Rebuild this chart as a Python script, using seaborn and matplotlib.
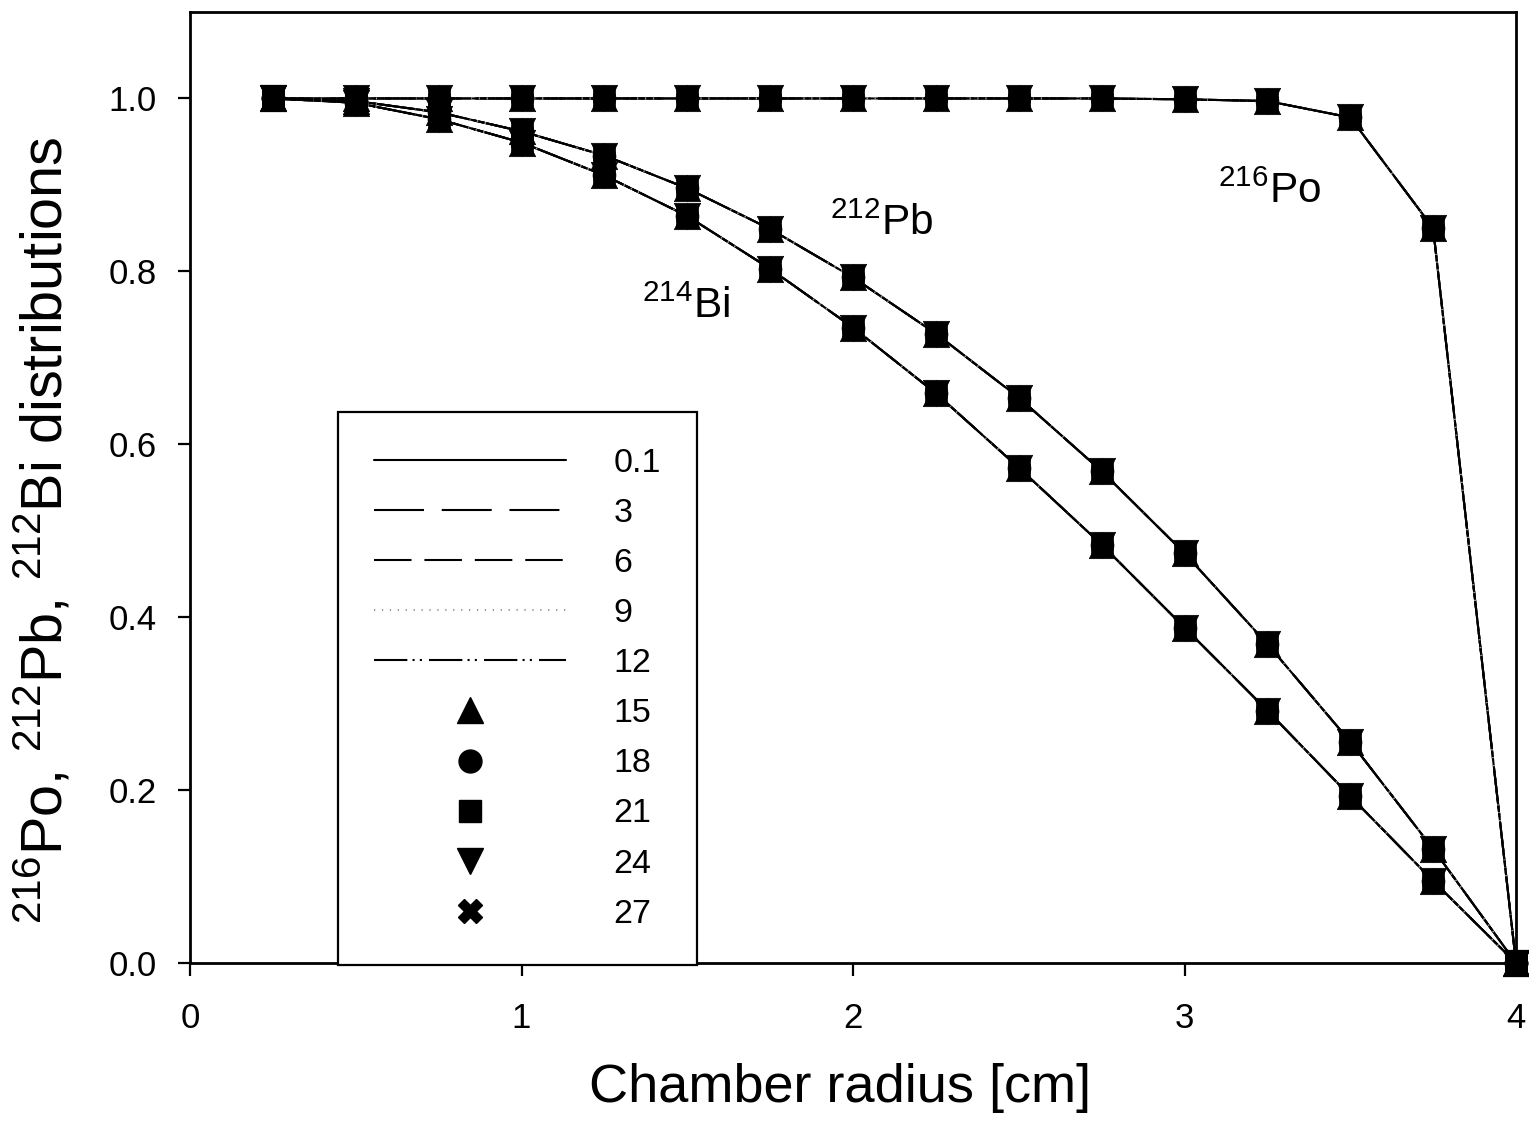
import matplotlib
matplotlib.use("Agg")
import matplotlib.pyplot as plt
from matplotlib.lines import Line2D
import seaborn as sns
import pandas as pd

# ---------------- data ----------------
radius = [0.25, 0.5, 0.75, 1.0, 1.25, 1.5, 1.75, 2.0, 2.25, 2.5, 2.75, 3.0, 3.25, 3.5, 3.75, 4.0]
po216 = [1.0, 1.0, 1.0, 1.0, 1.0, 1.0, 1.0, 1.0, 1.0, 1.0, 1.0, 0.999, 0.997, 0.978, 0.850, 0.0]
pb212 = [1.0, 0.997, 0.984, 0.962, 0.934, 0.896, 0.849, 0.793, 0.728, 0.654, 0.569, 0.474, 0.369, 0.256, 0.132, 0.0]
bi214 = [1.0, 0.995, 0.976, 0.949, 0.911, 0.864, 0.803, 0.735, 0.659, 0.573, 0.484, 0.388, 0.292, 0.193, 0.095, 0.0]

line_series = ["0.1", "3", "6", "9", "12"]
marker_series = ["15", "18", "21", "24", "27"]
tick_x = [0, 1, 2, 3, 4]
tick_y = [0.0, 0.2, 0.4, 0.6, 0.8, 1.0]

rows = []
for s in line_series + marker_series:
    for iso, vals in (("Po", po216), ("Pb", pb212), ("Bi", bi214)):
        for r, v in zip(radius, vals):
            rows.append({"series": s, "isotope": iso, "radius": r, "value": v})
df = pd.DataFrame(rows)

# ---------------- style ----------------
sns.set_style("ticks")
plt.rcParams["font.family"] = ["Liberation Sans", "DejaVu Sans"]
plt.rcParams["mathtext.fontset"] = "custom"
plt.rcParams["mathtext.rm"] = "Liberation Sans"
plt.rcParams["mathtext.it"] = "Liberation Sans:italic"
plt.rcParams["mathtext.bf"] = "Liberation Sans:bold"
for k in ("text.color", "axes.labelcolor", "xtick.color", "ytick.color", "axes.edgecolor"):
    plt.rcParams[k] = "black"

LW = 1.5
line_styles = {
    "0.1": dict(ls="-", color="black"),
    "3": dict(ls=(0, (24, 8.5)), color="black"),
    "6": dict(ls=(0, (18, 6.2)), color="black"),
    "9": dict(ls=(0, (0.6, 3.2)), color="#9a9a9a"),
    "12": dict(ls=(0, (16, 2.5, 1, 2.5, 1, 3.4)), color="black"),
}
marker_styles = {"15": ("^", 19), "18": ("o", 16.5), "21": ("s", 15.5), "24": ("v", 19), "27": ("X", 15)}

fig = plt.figure(figsize=(15.29, 11.28), dpi=100)
ax = fig.add_axes([190 / 1529, 1 - 963 / 1128, (1516 - 190) / 1529, (963 - 12) / 1128])

for s in line_series:
    st = line_styles[s]
    for iso in ("Po", "Pb", "Bi"):
        sub = df[(df.series == s) & (df.isotope == iso)]
        sns.lineplot(data=sub, x="radius", y="value", ax=ax, color=st["color"],
                     linestyle=st["ls"], linewidth=LW, estimator=None, sort=False,
                     legend=False, zorder=2)

for s in marker_series:
    mk, ms = marker_styles[s]
    sub = df[df.series == s]
    sns.scatterplot(data=sub, x="radius", y="value", ax=ax, marker=mk, s=ms ** 2,
                    color="black", edgecolor="black", linewidth=0.5, legend=False,
                    zorder=3, clip_on=False)

ax.set_xlim(0, 4)
ax.set_ylim(0, 1.1)
ax.set_xticks(tick_x)
ax.set_xticklabels([str(t) for t in tick_x])
ax.set_yticks(tick_y)
ax.set_yticklabels([f"{t:.1f}" for t in tick_y])
for sp in ax.spines.values():
    sp.set_visible(True)
    sp.set_linewidth(2.0)
    sp.set_color("black")
ax.tick_params(axis="both", direction="out", length=9, width=1.6, labelsize=25,
               colors="black", labelcolor="black")
ax.tick_params(axis="x", pad=19)
ax.tick_params(axis="y", pad=15)

ax.set_xlabel("Chamber radius [cm]", fontsize=39, color="black")
ax.xaxis.set_label_coords(0.49, -0.105)
ax.set_ylabel(r"$^{\mathregular{216}}$Po, $^{\mathregular{212}}$Pb, $^{\mathregular{212}}$Bi distributions",
              fontsize=41.5, color="black")
ax.yaxis.set_label_coords(-0.087, 0.455)

ax.text(3.101, 0.879, r"$^{\mathregular{216}}$Po", fontsize=30.5, ha="left", va="baseline", color="black")
ax.text(1.931, 0.842, r"$^{\mathregular{212}}$Pb", fontsize=30.5, ha="left", va="baseline", color="black")
ax.text(1.363, 0.746, r"$^{\mathregular{214}}$Bi", fontsize=30.5, ha="left", va="baseline", color="black")

handles = []
for s in line_series:
    st = line_styles[s]
    handles.append(Line2D([], [], color=st["color"], ls=st["ls"], lw=LW))
legend_marker_size = {"15": 19, "18": 16.5, "21": 15.5, "24": 19, "27": 17.5}
for s in marker_series:
    mk, _ = marker_styles[s]
    handles.append(Line2D([], [], ls="none", marker=mk, markersize=legend_marker_size[s], color="black"))
leg = ax.legend(handles, line_series + marker_series, loc="upper left",
                bbox_to_anchor=(0.1116, 0.579), borderaxespad=0, fontsize=24.5,
                handlelength=5.65, handletextpad=1.4, labelspacing=0.56, borderpad=1.05,
                fancybox=False, frameon=True, framealpha=1, edgecolor="black")
leg.get_frame().set_linewidth(1.6)
for t in leg.get_texts():
    t.set_color("black")

fig.savefig("out.png", dpi=100)
